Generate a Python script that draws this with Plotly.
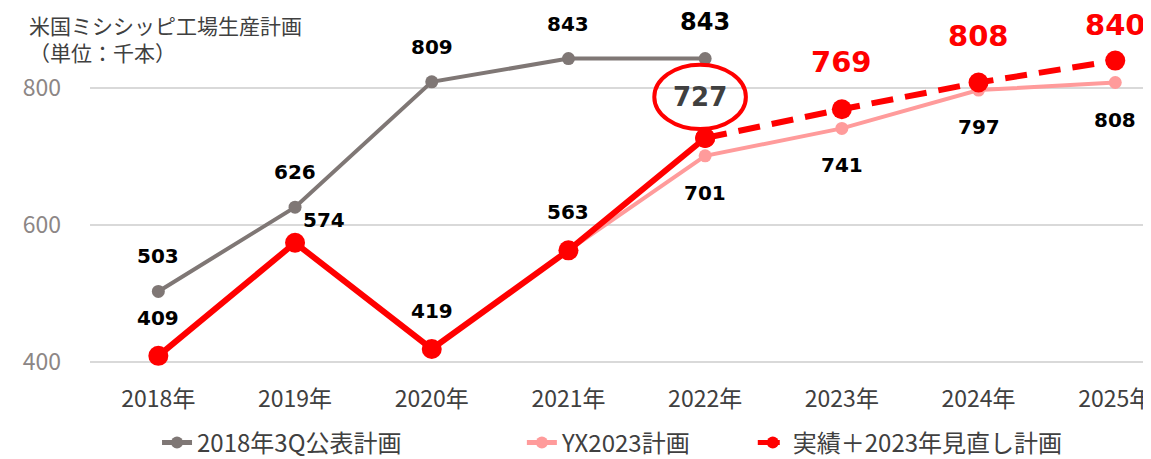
import plotly.graph_objects as go

# data
years = ["2018年", "2019年", "2020年", "2021年", "2022年", "2023年", "2024年", "2025年"]

plan2018 = [503, 626, 809, 843, 843]          # 2018-2022
plan_yx2023 = [563, 701, 741, 797, 808]       # 2021-2025
actual = [409, 574, 419, 563, 727]            # 2018-2022
revised = [727, 769, 808, 840]                # 2022-2025

x_plan2018 = [0, 1, 2, 3, 4]
x_yx = [3, 4, 5, 6, 7]
x_actual = [0, 1, 2, 3, 4]
x_revised = [4, 5, 6, 7]

GRAY = "#7f7775"
PINK = "#ff9b9b"
RED = "#ff0000"
TXT = "#404040"
CJK = "Noto Sans CJK JP"
NUM = "DejaVu Sans"

fig = go.Figure()

fig.add_trace(go.Scatter(
    x=x_plan2018, y=plan2018, name="2018年3Q公表計画",
    mode="lines+markers", legend="legend",
    line=dict(color=GRAY, width=4),
    marker=dict(size=13, color=GRAY),
))
fig.add_trace(go.Scatter(
    x=x_yx, y=plan_yx2023, name="YX2023計画",
    mode="lines+markers", legend="legend2",
    line=dict(color=PINK, width=4),
    marker=dict(size=13, color=PINK),
))
fig.add_trace(go.Scatter(
    x=x_actual, y=actual, name="実績",
    mode="lines+markers", showlegend=False,
    line=dict(color=RED, width=6),
    marker=dict(size=20, color=RED),
))
fig.add_trace(go.Scatter(
    x=x_revised, y=revised, name="実績＋2023年見直し計画",
    mode="lines+markers", legend="legend3",
    line=dict(color=RED, width=6, dash="22px,12px"),
    marker=dict(size=20, color=RED),
))


def label(x, y, text, dy, dx=0, size=20, color="#000000"):
    fig.add_annotation(
        x=x, y=y, text="<b>%s</b>" % text, showarrow=False,
        xshift=dx, yshift=dy,
        font=dict(family=NUM, size=size, color=color),
    )


# gray labels (above)
for i, (x, v) in enumerate(zip(x_plan2018, plan2018)):
    if i == 4:
        label(x, v, v, 37, size=24)
    else:
        label(x, v, v, 35)

# actual labels
for x, v in zip(x_actual, actual):
    if x == 1:
        label(x, v, v, 23, dx=29)
    elif x == 4:
        label(x, v, v, 41, dx=-5, size=26, color=TXT)
    else:
        label(x, v, v, 38)

# revised labels (big red); the last one is pulled down a bit to stay on the page
for x, v in zip(x_revised[1:], revised[1:]):
    label(x, v, v, 47 if x < 7 else 36, size=29, color=RED)

# YX2023 labels (below)
for x, v in zip(x_yx[1:], plan_yx2023[1:]):
    label(x, v, v, -37)

# red ellipse around 727
cx, cy = x_actual[4] - 0.037, actual[4] + 60
fig.add_shape(type="circle", xref="x", yref="y",
              x0=cx - 0.335, x1=cx + 0.335, y0=cy - 47, y1=cy + 47,
              line=dict(color=RED, width=4))

# title text, two lines in one block
fig.add_annotation(xref="paper", yref="paper", x=-0.0589, y=1.0,
                   xanchor="left", yanchor="top", align="left", showarrow=False,
                   text="米国ミシシッピ工場生産計画<br>（単位：千本）",
                   font=dict(family=CJK, size=21, color=TXT))

leg = dict(orientation="h", y=-0.185, yanchor="middle", xanchor="left",
           itemsizing="constant", bgcolor="rgba(0,0,0,0)",
           font=dict(family=CJK, size=24, color=TXT))

fig.update_layout(
    width=1151, height=459,
    margin=dict(l=82, r=0, t=0, b=92),
    plot_bgcolor="white", paper_bgcolor="white",
    showlegend=True,
    legend=dict(leg, x=0.0627),
    legend2=dict(leg, x=0.404),
    legend3=dict(leg, x=0.620),
)
fig.update_xaxes(
    range=[-0.5, 7.32], tickvals=list(range(len(years))), ticktext=years,
    showgrid=False, zeroline=False, showline=False, automargin=False,
    ticklabeloverflow="allow", ticklabelstandoff=8,
    tickfont=dict(family=CJK, size=23, color=TXT),
)
fig.update_yaxes(
    range=[381.0, 916.8], tickvals=[400, 600, 800],
    showgrid=True, gridcolor="#d9d9d9", gridwidth=1.5,
    zeroline=False, showline=False, automargin=False,
    ticklabelstandoff=28,
    tickfont=dict(family=CJK, size=23, color="#8c8685"),
)

fig.write_html("out.html")
